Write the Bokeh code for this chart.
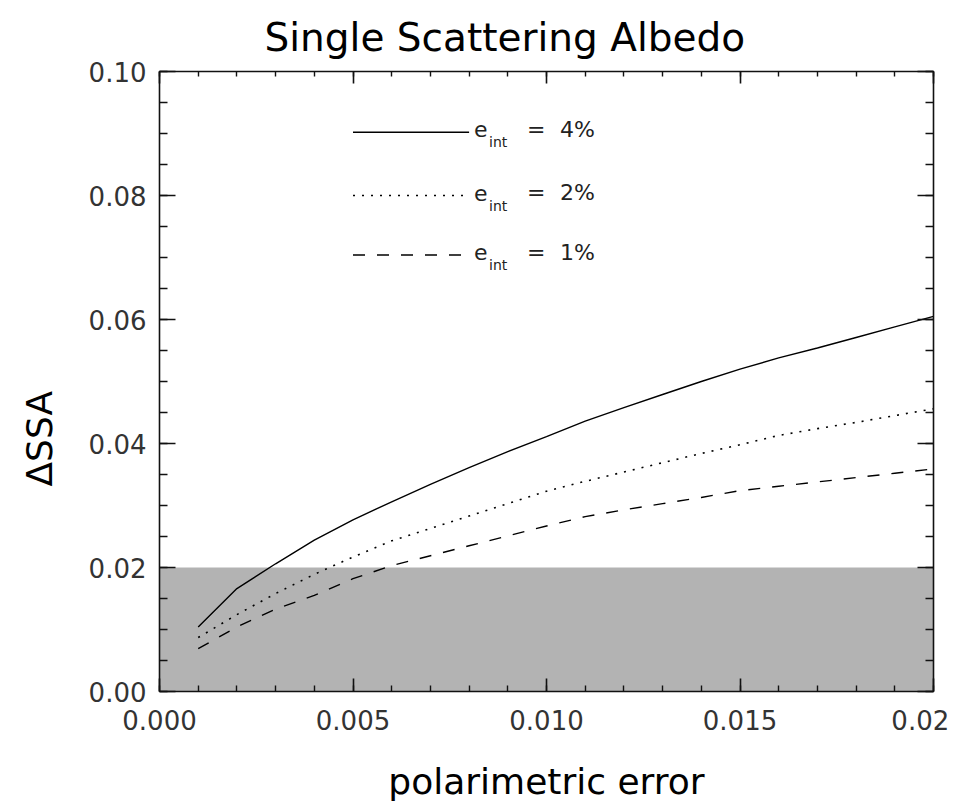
import numpy as np
from bokeh.plotting import figure
from bokeh.models import Range1d, FixedTicker, LinearAxis, BoxAnnotation, Title
from bokeh.core.properties import value
from bokeh.embed import file_html
from bokeh.resources import INLINE

# ---------------- data ----------------
pol_error = [0.001, 0.002, 0.003, 0.004, 0.005, 0.006, 0.007, 0.008, 0.009, 0.010,
             0.011, 0.012, 0.013, 0.014, 0.015, 0.016, 0.017, 0.018, 0.019, 0.020]
dssa_e4 = [0.0104, 0.0166, 0.0206, 0.0244, 0.0277, 0.0306, 0.0334, 0.0361, 0.0387, 0.0411,
           0.0436, 0.0458, 0.0479, 0.0500, 0.0520, 0.0538, 0.0554, 0.0571, 0.0588, 0.0605]
dssa_e2 = [0.0087, 0.0124, 0.0158, 0.0189, 0.0217, 0.0243, 0.0263, 0.0283, 0.0303, 0.0323,
           0.0339, 0.0354, 0.0369, 0.0384, 0.0398, 0.0413, 0.0424, 0.0434, 0.0445, 0.0456]
dssa_e1 = [0.0069, 0.0104, 0.0133, 0.0155, 0.0182, 0.0203, 0.0219, 0.0235, 0.0251, 0.0267,
           0.0282, 0.0293, 0.0303, 0.0313, 0.0324, 0.0331, 0.0338, 0.0345, 0.0352, 0.0359]
series_pct = ["4%", "2%", "1%"]
shade_top = 0.02

x_ticks = [0.0, 0.005, 0.010, 0.015, 0.020]
x_tick_labels = ["0.000", "0.005", "0.010", "0.015", "0.02\u00a0"]
y_ticks = [0.0, 0.02, 0.04, 0.06, 0.08, 0.10]
y_tick_labels = ["0.00", "0.02", "0.04", "0.06", "0.08", "0.10"]

title_text = "Single Scattering Albedo"
x_label = "polarimetric error"
y_label = "\u0394SSA"

# ---------------- figure ----------------
FONT = "DejaVu Sans"
p = figure(width=957, height=804, x_range=Range1d(0, 0.02), y_range=Range1d(0, 0.1),
           output_backend="svg", toolbar_location=None,
           min_border_left=159, min_border_right=24, min_border_top=71, min_border_bottom=113)
p.grid.visible = False
p.outline_line_color = None
p.background_fill_color = "white"

x_minor = [round(v, 4) for v in np.arange(0, 0.02001, 0.001)]
y_minor = [round(v, 4) for v in np.arange(0, 0.10001, 0.005)]


def style_axis(ax, major_in, minor_in):
    ax.axis_line_width = 1.6
    ax.axis_line_color = "#111111"
    ax.major_tick_in = major_in
    ax.major_tick_out = 0
    ax.minor_tick_in = minor_in
    ax.minor_tick_out = 0
    ax.major_tick_line_width = 1.6
    ax.minor_tick_line_width = 1.4
    ax.major_tick_line_color = "#111111"
    ax.minor_tick_line_color = "#111111"
    ax.major_label_text_font = FONT
    ax.major_label_text_font_size = "26px"
    ax.major_label_text_color = "#333333"


xa = p.xaxis[0]
xa.ticker = FixedTicker(ticks=x_ticks, minor_ticks=x_minor)
style_axis(xa, 13, 6)
xa.major_label_overrides = {t: l for t, l in zip(x_ticks, x_tick_labels)}
xa.major_label_standoff = 14
xa.axis_label = x_label
xa.axis_label_text_font = FONT
xa.axis_label_text_font_size = "36px"
xa.axis_label_text_font_style = "normal"
xa.axis_label_text_color = "black"
xa.axis_label_standoff = 22

ya = p.yaxis[0]
ya.ticker = FixedTicker(ticks=y_ticks, minor_ticks=y_minor)
style_axis(ya, 16, 8)
ya.major_label_overrides = {t: l for t, l in zip(y_ticks, y_tick_labels)}
ya.major_label_standoff = 13
ya.axis_label = y_label + "\u00a0" * 10
ya.axis_label_text_font = FONT
ya.axis_label_text_font_size = "36px"
ya.axis_label_text_font_style = "normal"
ya.axis_label_text_color = "black"
ya.axis_label_standoff = 26

top = LinearAxis(ticker=FixedTicker(ticks=x_ticks, minor_ticks=x_minor))
style_axis(top, 12, 5)
top.major_label_overrides = {t: "" for t in x_ticks}
p.add_layout(top, "above")

right = LinearAxis(ticker=FixedTicker(ticks=y_ticks, minor_ticks=y_minor))
style_axis(right, 16, 8)
right.major_label_overrides = {t: "" for t in y_ticks}
p.add_layout(right, "right")

p.add_layout(Title(text=title_text, align="left", offset=105, text_font=FONT,
                   text_font_size="39px", text_font_style="normal", text_color="black",
                   standoff=23), "above")

# shaded region
p.add_layout(BoxAnnotation(bottom=0, top=shade_top, fill_color="#b3b3b3", fill_alpha=1.0,
                           line_color=None, level="underlay"))

# curves
p.line(pol_error, dssa_e4, line_color="black", line_width=1.4)
p.line(pol_error, dssa_e2, line_color="black", line_width=1.6, line_dash="2 7")
p.line(pol_error, dssa_e1, line_color="black", line_width=1.4, line_dash="12 12")

# legend (drawn in data space at the top-left of the plot)
leg_x = [0.005, 0.008]
leg_y = [0.0902, 0.0800, 0.0704]
leg_dash = ["solid", "2 7", "12 12"]
for yy, dash, pct in zip(leg_y, leg_dash, series_pct):
    p.line(leg_x, [yy, yy], line_color="black", line_width=1.4, line_dash=dash)
    p.text(x=[leg_x[1]], y=[yy], text=["e"], x_offset=5, y_offset=-3,
           text_font=value(FONT), text_font_size="22px", text_color="#222222",
           text_baseline="middle", text_align="left")
    p.text(x=[leg_x[1]], y=[yy], text=["int"], x_offset=20, y_offset=10,
           text_font=value(FONT), text_font_size="14px", text_color="#222222",
           text_baseline="middle", text_align="left")
    p.text(x=[leg_x[1]], y=[yy], text=["="], x_offset=58, y_offset=-3,
           text_font=value(FONT), text_font_size="22px", text_color="#222222",
           text_baseline="middle", text_align="left")
    p.text(x=[leg_x[1]], y=[yy], text=[pct], x_offset=91, y_offset=-3,
           text_font=value(FONT), text_font_size="22px", text_color="#222222",
           text_baseline="middle", text_align="left")

open("out.html", "w").write(file_html(p, INLINE))
